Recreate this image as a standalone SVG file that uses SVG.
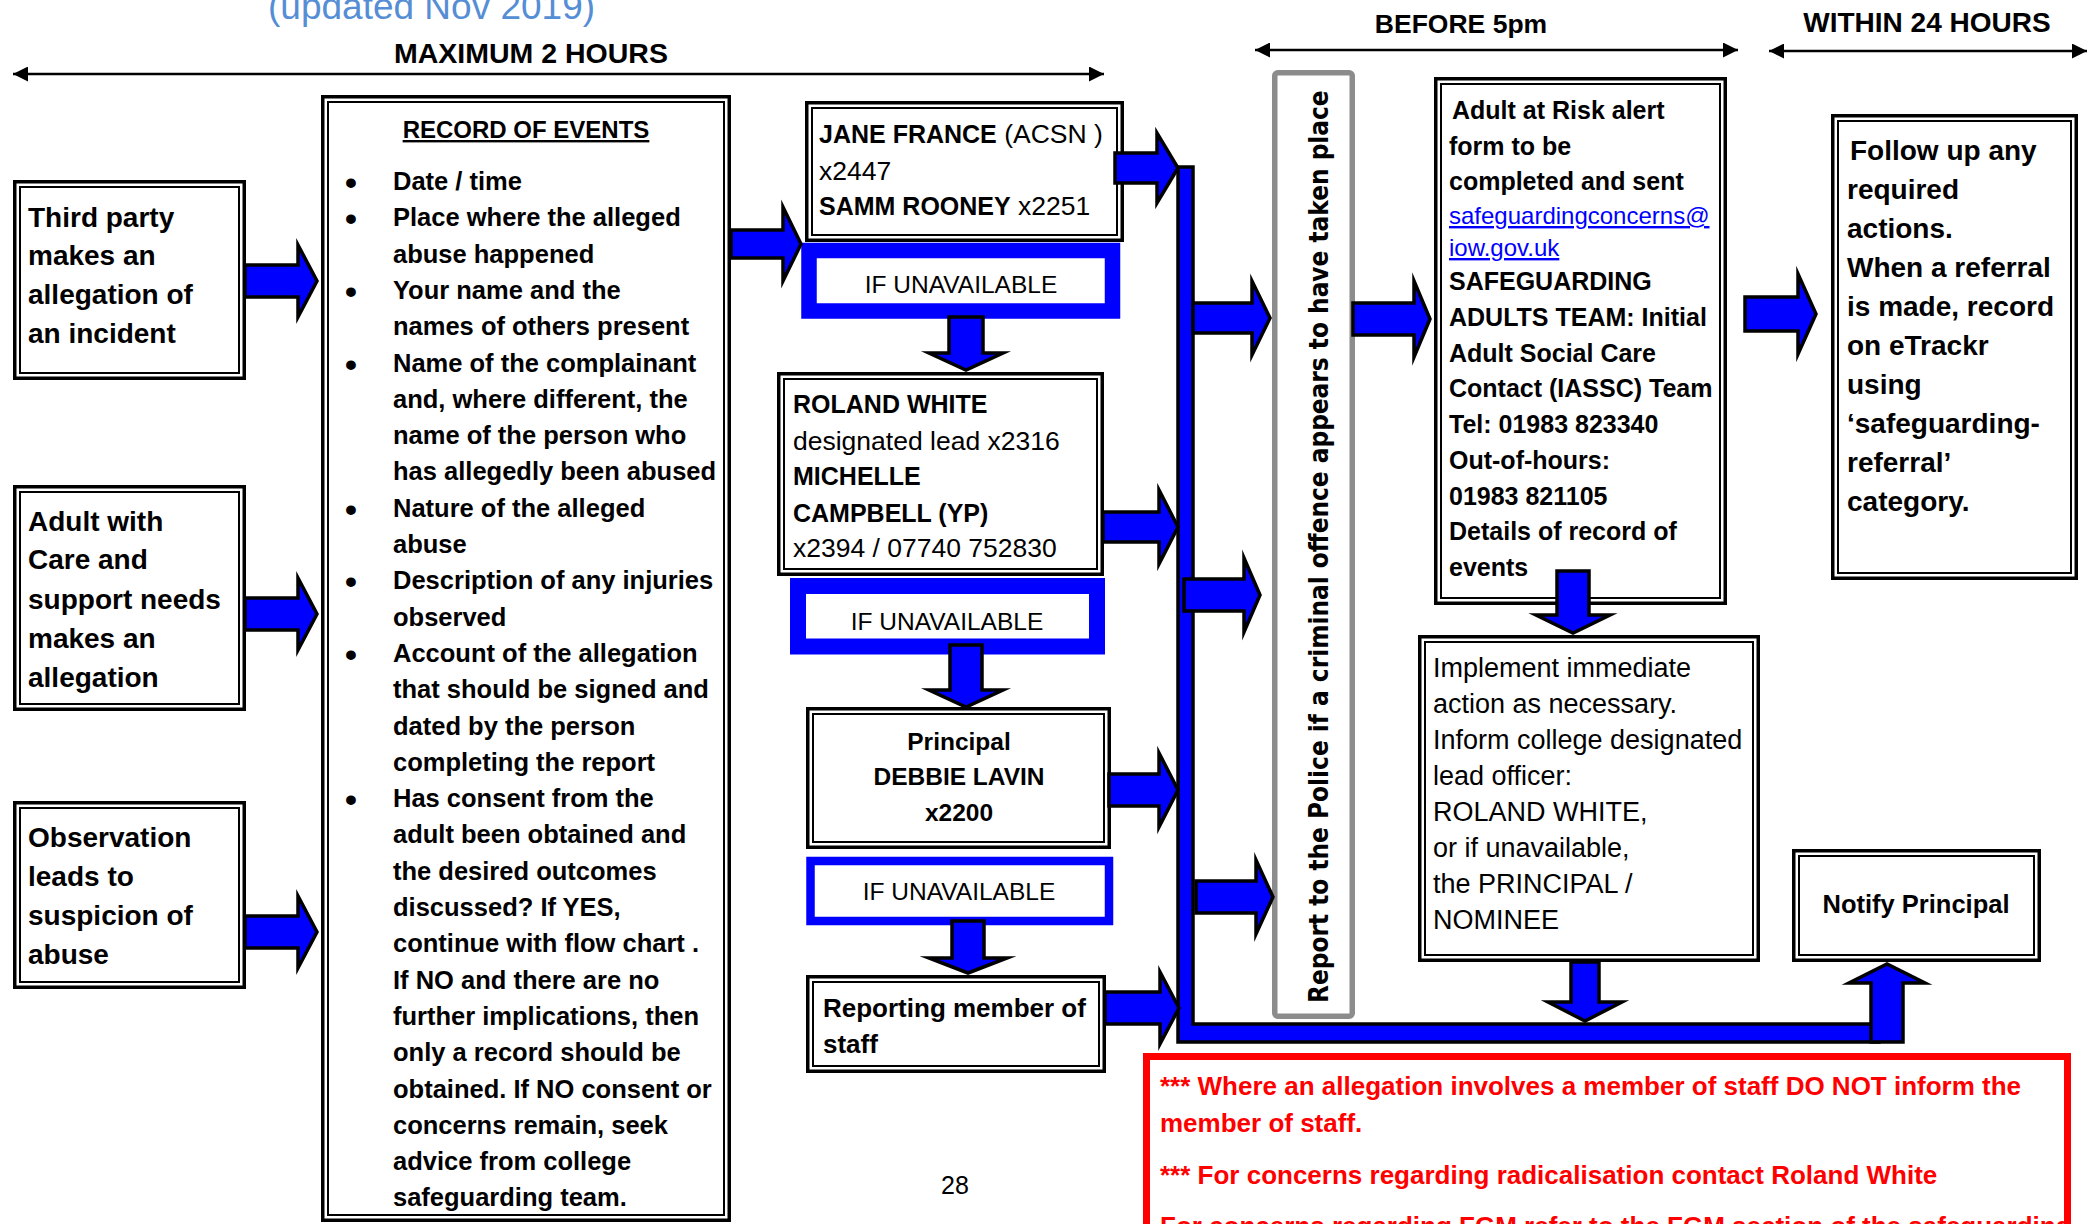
<svg xmlns="http://www.w3.org/2000/svg" width="2091" height="1224" viewBox="0 0 2091 1224">
<defs>
<style>
text{font-family:"Liberation Sans",Arial,sans-serif;fill:#000}
.b{font-weight:bold}
.ob{fill:#fff;stroke:#000;stroke-width:3.5}
.ib{fill:none;stroke:#000;stroke-width:2}
.blk{fill:#0000FF;stroke:#000;stroke-width:3.5;stroke-linejoin:miter;stroke-miterlimit:8}
.ifb{fill:#fff;stroke:#0000FF}
.tl{stroke:#000;stroke-width:2.5;fill:none}
.red{fill:#FF0000;font-weight:bold;font-size:26px}
.lbl{font-weight:bold;text-anchor:middle}
</style>
<marker id="ah" viewBox="0 0 15 15" refX="15" refY="7.5" markerWidth="15" markerHeight="15" markerUnits="userSpaceOnUse" orient="auto-start-reverse"><path d="M0,0 L15,7.5 L0,15 Z" fill="#000"/></marker>
</defs>
<rect width="2091" height="1224" fill="#fff"/>

<g id="header">
<text x="268" y="19" font-size="37" style="fill:#558ED5">(updated Nov 2019)</text>
</g>

<g id="timeline">
<path class="tl" d="M13,74 H1104" marker-start="url(#ah)" marker-end="url(#ah)"/>
<path class="tl" d="M1255,50 H1738" marker-start="url(#ah)" marker-end="url(#ah)"/>
<path class="tl" d="M1769,51 H2087" marker-start="url(#ah)" marker-end="url(#ah)"/>
<text class="lbl" x="531" y="63" font-size="28.5">MAXIMUM 2 HOURS</text>
<text class="lbl" x="1461" y="33" font-size="26.5">BEFORE 5pm</text>
<text class="lbl" x="1927" y="32" font-size="28">WITHIN 24 HOURS</text>
</g>

<g id="third-party">
<rect class="ob" x="14.75" y="181.75" width="229.5" height="196.5"/>
<rect class="ib" x="20" y="187" width="219" height="186"/>
<text class="b" font-size="28"><tspan x="28" y="227">Third party</tspan><tspan x="28" y="265">makes an</tspan><tspan x="28" y="304">allegation of</tspan><tspan x="28" y="343">an incident</tspan></text>
</g>

<g id="adult-with-care">
<rect class="ob" x="14.75" y="486.75" width="229.5" height="222.5"/>
<rect class="ib" x="20" y="492" width="219" height="212"/>
<text class="b" font-size="28"><tspan x="28" y="531">Adult with</tspan><tspan x="28" y="569">Care and</tspan><tspan x="28" y="609">support needs</tspan><tspan x="28" y="648">makes an</tspan><tspan x="28" y="687">allegation</tspan></text>
</g>

<g id="observation">
<rect class="ob" x="14.75" y="802.75" width="229.5" height="184.5"/>
<rect class="ib" x="20" y="808" width="219" height="174"/>
<text class="b" font-size="28"><tspan x="28" y="847">Observation</tspan><tspan x="28" y="886">leads to</tspan><tspan x="28" y="925">suspicion of</tspan><tspan x="28" y="964">abuse</tspan></text>
</g>

<g id="record-of-events">
<rect class="ob" x="322.75" y="96.75" width="406.5" height="1123.5"/>
<rect class="ib" x="328" y="102" width="396" height="1113"/>
<text class="b" x="526" y="138" font-size="24" text-anchor="middle" text-decoration="underline">RECORD OF EVENTS</text>
<text class="b" font-size="34" text-anchor="middle"><tspan x="351" y="194">•</tspan><tspan x="351" y="230.3">•</tspan><tspan x="351" y="302.9">•</tspan><tspan x="351" y="375.5">•</tspan><tspan x="351" y="520.7">•</tspan><tspan x="351" y="593.3">•</tspan><tspan x="351" y="665.9">•</tspan><tspan x="351" y="811.1">•</tspan></text>
<text class="b" font-size="25.5">
<tspan x="393" y="190">Date / time</tspan>
<tspan x="393" y="226.3">Place where the alleged</tspan>
<tspan x="393" y="262.6">abuse happened</tspan>
<tspan x="393" y="298.9">Your name and the</tspan>
<tspan x="393" y="335.2">names of others present</tspan>
<tspan x="393" y="371.5">Name of the complainant</tspan>
<tspan x="393" y="407.8">and, where different, the</tspan>
<tspan x="393" y="444.1">name of the person who</tspan>
<tspan x="393" y="480.4">has allegedly been abused</tspan>
<tspan x="393" y="516.7">Nature of the alleged</tspan>
<tspan x="393" y="553">abuse</tspan>
<tspan x="393" y="589.3">Description of any injuries</tspan>
<tspan x="393" y="625.6">observed</tspan>
<tspan x="393" y="661.9">Account of the allegation</tspan>
<tspan x="393" y="698.2">that should be signed and</tspan>
<tspan x="393" y="734.5">dated by the person</tspan>
<tspan x="393" y="770.8">completing the report</tspan>
<tspan x="393" y="807.1">Has consent from the</tspan>
<tspan x="393" y="843.4">adult been obtained and</tspan>
<tspan x="393" y="879.7">the desired outcomes</tspan>
<tspan x="393" y="916">discussed? If YES,</tspan>
<tspan x="393" y="952.3">continue with flow chart .</tspan>
<tspan x="393" y="988.6">If NO and there are no</tspan>
<tspan x="393" y="1024.9">further implications, then</tspan>
<tspan x="393" y="1061.2">only a record should be</tspan>
<tspan x="393" y="1097.5">obtained. If NO consent or</tspan>
<tspan x="393" y="1133.8">concerns remain, seek</tspan>
<tspan x="393" y="1170.1">advice from college</tspan>
<tspan x="393" y="1206.4">safeguarding team.</tspan>
</text>
</g>

<g id="jane-france">
<rect class="ob" x="806.75" y="102.75" width="315.5" height="137.5"/>
<rect class="ib" x="812" y="108" width="305" height="127"/>
<text font-size="26.5"><tspan x="819" y="143"><tspan class="b" font-size="25">JANE FRANCE</tspan> (ACSN )</tspan><tspan x="819" y="180">x2447</tspan><tspan x="819" y="215"><tspan class="b" font-size="25">SAMM ROONEY</tspan> x2251</tspan></text>
</g>

<g id="if-unavailable-1">
<rect class="ifb" x="809" y="250.5" width="303.5" height="60.5" stroke-width="15.5"/>
<text x="961" y="293" font-size="24.5" text-anchor="middle">IF UNAVAILABLE</text>
</g>

<g id="roland-white">
<rect class="ob" x="778.75" y="373.75" width="323.5" height="200.5"/>
<rect class="ib" x="784" y="379" width="313" height="190"/>
<text font-size="26.5"><tspan class="b" font-size="25" x="793" y="413">ROLAND WHITE</tspan><tspan x="793" y="450">designated lead x2316</tspan><tspan class="b" font-size="25" x="793" y="485">MICHELLE</tspan><tspan class="b" font-size="25" x="793" y="522">CAMPBELL (YP)</tspan><tspan x="793" y="557">x2394 / 07740 752830</tspan></text>
</g>

<g id="if-unavailable-2">
<rect class="ifb" x="798" y="586" width="299" height="60.5" stroke-width="16"/>
<text x="947" y="630" font-size="24.5" text-anchor="middle">IF UNAVAILABLE</text>
</g>

<g id="principal">
<rect class="ob" x="807.75" y="708.75" width="301.5" height="138.5"/>
<rect class="ib" x="813" y="714" width="291" height="128"/>
<text class="b" font-size="24.5" text-anchor="middle"><tspan x="959" y="750">Principal</tspan><tspan x="959" y="785">DEBBIE LAVIN</tspan><tspan x="959" y="821">x2200</tspan></text>
</g>

<g id="if-unavailable-3">
<rect class="ifb" x="810.5" y="861" width="298.5" height="60" stroke-width="8.5"/>
<text x="959" y="900" font-size="24.5" text-anchor="middle">IF UNAVAILABLE</text>
</g>

<g id="reporting-member">
<rect class="ob" x="807.75" y="976.75" width="296.5" height="94.5"/>
<rect class="ib" x="813" y="982" width="286" height="84"/>
<text class="b" font-size="26"><tspan x="823" y="1017">Reporting member of</tspan><tspan x="823" y="1053">staff</tspan></text>
</g>

<g id="report-police">
<rect x="1274.75" y="72.75" width="77.5" height="943.5" rx="3" fill="#fff" stroke="#8c8c8c" stroke-width="5.5"/>
<text transform="translate(1328,1003) rotate(-90) scale(0.861,1)" x="0" y="0" font-size="27" textLength="1060" lengthAdjust="spacingAndGlyphs" style="font-family:'DejaVu Sans',Verdana,sans-serif;font-weight:bold">Report to the Police if a criminal offence appears to have taken place</text>
</g>

<g id="adult-at-risk-alert">
<rect class="ob" x="1435.75" y="78.75" width="289.5" height="524.5"/>
<rect class="ib" x="1441" y="84" width="279" height="514"/>
<text class="b" font-size="25"><tspan x="1452" y="119">Adult at Risk alert</tspan><tspan x="1449" y="155">form to be</tspan><tspan x="1449" y="190">completed and sent</tspan></text>
<text font-size="24" text-decoration="underline" style="fill:#0000FF"><tspan x="1449" y="224">safeguardingconcerns@</tspan><tspan x="1449" y="256">iow.gov.uk</tspan></text>
<text class="b" font-size="25"><tspan x="1449" y="290">SAFEGUARDING</tspan><tspan x="1449" y="326">ADULTS TEAM: Initial</tspan><tspan x="1449" y="362">Adult Social Care</tspan><tspan x="1449" y="397">Contact (IASSC) Team</tspan><tspan x="1449" y="433">Tel: 01983 823340</tspan><tspan x="1449" y="469">Out-of-hours:</tspan><tspan x="1449" y="505">01983 821105</tspan><tspan x="1449" y="540">Details of record of</tspan><tspan x="1449" y="576">events</tspan></text>
</g>

<g id="follow-up">
<rect class="ob" x="1832.75" y="115.75" width="243.5" height="462.5"/>
<rect class="ib" x="1838" y="121" width="233" height="452"/>
<text class="b" font-size="28"><tspan x="1850" y="160">Follow up any</tspan><tspan x="1847" y="199">required</tspan><tspan x="1847" y="238">actions.</tspan><tspan x="1847" y="277">When a referral</tspan><tspan x="1847" y="316">is made, record</tspan><tspan x="1847" y="355">on eTrackr</tspan><tspan x="1847" y="394">using</tspan><tspan x="1847" y="433">‘safeguarding-</tspan><tspan x="1847" y="472">referral’</tspan><tspan x="1847" y="511">category.</tspan></text>
</g>

<g id="implement-action">
<rect class="ob" x="1419.75" y="636.75" width="338.5" height="323.5"/>
<rect class="ib" x="1425" y="642" width="328" height="313"/>
<text font-size="27"><tspan x="1433" y="677">Implement immediate</tspan><tspan x="1433" y="713">action as necessary.</tspan><tspan x="1433" y="749">Inform college designated</tspan><tspan x="1433" y="785">lead officer:</tspan><tspan x="1433" y="821">ROLAND WHITE,</tspan><tspan x="1433" y="857">or if unavailable,</tspan><tspan x="1433" y="893">the PRINCIPAL /</tspan><tspan x="1433" y="929">NOMINEE</tspan></text>
</g>

<g id="notify-principal">
<rect class="ob" x="1793.75" y="850.75" width="245.5" height="109.5"/>
<rect class="ib" x="1799" y="856" width="235" height="99"/>
<text class="b" x="1916" y="913" font-size="25.5" text-anchor="middle">Notify Principal</text>
</g>

<g id="notes">
<rect x="1146.5" y="1056.5" width="921" height="220" fill="#fff" stroke="#FF0000" stroke-width="7"/>
<text class="red" style="fill:#FF0000"><tspan x="1160" y="1095">*** Where an allegation involves a member of staff DO NOT inform the</tspan><tspan x="1160" y="1132">member of staff.</tspan><tspan x="1160" y="1184">*** For concerns regarding radicalisation contact Roland White</tspan><tspan x="1160" y="1235">For concerns regarding FGM refer to the FGM section of the safeguarding</tspan></text>
</g>

<g id="page-number">
<text x="955" y="1194" font-size="25" text-anchor="middle">28</text>
</g>

<g id="connectors">
<path class="blk" d="M1178,167 H1193 V1024 H1879 V1042 H1178 Z"/>
<polygon class="blk" points="245,265 298,265 298,245 317,281 298,317 298,297 245,297"/>
<polygon class="blk" points="245,598 298,598 298,578 317,614 298,650 298,630 245,630"/>
<polygon class="blk" points="245,916 298,916 298,896 317,932 298,968 298,948 245,948"/>
<polygon class="blk" points="731,230 783,230 783,207 801,244 783,281 783,258 731,258"/>
<polygon class="blk" points="1115,153 1157,153 1157,133 1178,168 1157,203 1157,183 1115,183"/>
<polygon class="blk" points="1103,512 1159,512 1159,490 1178,527 1159,564 1159,542 1103,542"/>
<polygon class="blk" points="1109,774 1159,774 1159,753 1178,790 1159,827 1159,806 1109,806"/>
<polygon class="blk" points="1105,992 1160,992 1160,972 1179,1008 1160,1044 1160,1024 1105,1024"/>
<polygon class="blk" points="1193,303 1252,303 1252,281 1270,318 1252,355 1252,333 1193,333"/>
<polygon class="blk" points="1184,579 1244,579 1244,558 1260,595 1244,632 1244,611 1184,611"/>
<polygon class="blk" points="1196,881 1256,881 1256,860 1273,897 1256,934 1256,913 1196,913"/>
<polygon class="blk" points="1353,303 1414,303 1414,281 1430,319 1414,357 1414,335 1353,335"/>
<polygon class="blk" points="1745,297 1798,297 1798,274 1816,314 1798,354 1798,331 1745,331"/>
<polygon class="blk" points="949,317 983,317 983,353 1003,353 966,370 929,353 949,353"/>
<polygon class="blk" points="950,645 982,645 982,690 1003,690 966,707 929,690 950,690"/>
<polygon class="blk" points="952,921 984,921 984,958 1007,958 968,973 929,958 952,958"/>
<polygon class="blk" points="1557,571 1589,571 1589,615 1610,615 1573,633 1536,615 1557,615"/>
<polygon class="blk" points="1571,962 1599,962 1599,1002 1622,1002 1585,1021 1548,1002 1571,1002"/>
<polygon class="blk" points="1871,1042 1903,1042 1903,983 1925,983 1887,964 1849,983 1871,983"/>
</g>
</svg>
